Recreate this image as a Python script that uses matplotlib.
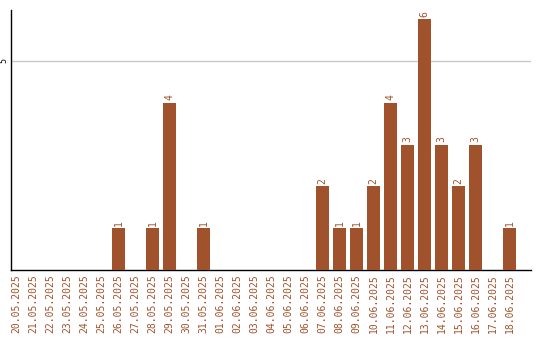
import numpy as np
import matplotlib
matplotlib.use("Agg")
import matplotlib.pyplot as plt

# Dates shown on the x axis
dates = ["20.05.2025", "21.05.2025", "22.05.2025", "23.05.2025", "24.05.2025",
         "25.05.2025", "26.05.2025", "27.05.2025", "28.05.2025", "29.05.2025",
         "30.05.2025", "31.05.2025", "01.06.2025", "02.06.2025", "03.06.2025",
         "04.06.2025", "05.06.2025", "06.06.2025", "07.06.2025", "08.06.2025",
         "09.06.2025", "10.06.2025", "11.06.2025", "12.06.2025", "13.06.2025",
         "14.06.2025", "15.06.2025", "16.06.2025", "17.06.2025", "18.06.2025"]
counts = [0, 0, 0, 0, 0, 0, 1, 0, 1, 4,
          0, 1, 0, 0, 0, 0, 0, 0, 2, 1,
          1, 2, 4, 3, 6, 3, 2, 3, 0, 1]

color = "#A0522D"

fig = plt.figure(figsize=(5.4, 3.4), dpi=100)
ax = fig.add_axes([11 / 540, 70 / 340, 520 / 540, 260 / 340])

x = np.arange(len(dates))
bars = ax.bar(x, counts, width=0.8, color=color, zorder=3)

for xi, v in zip(x, counts):
    if v > 0:
        ax.text(xi, v + 0.06, str(v), rotation=90, ha="center", va="bottom",
                color=color, fontsize=7, family="DejaVu Sans Mono")

ax.set_xlim(-0.32, 30.26)
ax.set_ylim(0, 6.22)
ax.set_yticks([5])
ax.set_yticklabels(["5"], rotation=90, va="center", fontsize=6,
                   family="DejaVu Sans Mono")
ax.yaxis.grid(True, color="#c8c8c8", linewidth=1, zorder=0)

ax.set_xticks(x)
ax.set_xticklabels(dates, rotation=90, color=color, fontsize=7,
                   family="DejaVu Sans Mono")
ax.tick_params(axis="both", length=0, pad=3)
ax.tick_params(axis="y", pad=2)

for s in ["top", "right"]:
    ax.spines[s].set_visible(False)
ax.spines["left"].set_linewidth(1)
ax.spines["bottom"].set_linewidth(1)

fig.savefig("out.png", dpi=100)
